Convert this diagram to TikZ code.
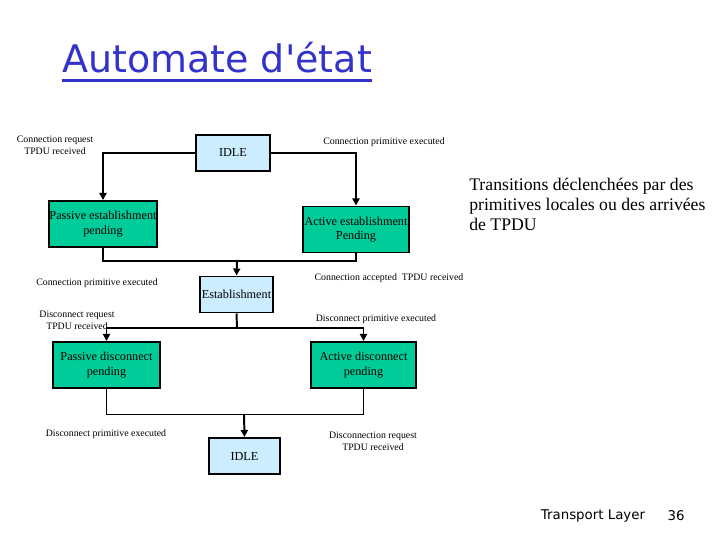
\documentclass[tikz,border=0pt]{standalone}
\usepackage{fontspec}
\setmainfont{Liberation Serif}
\newfontfamily\titlefont{DejaVu Sans}
\usetikzlibrary{arrows.meta}
\definecolor{idleblue}{RGB}{204,236,255}
\definecolor{stategreen}{RGB}{0,204,153}
\definecolor{titleblue}{RGB}{51,51,204}

\begin{document}
\begin{tikzpicture}[x=0.025cm, y=-0.025cm,
  idlebox/.style={draw, line width=1.4pt, fill=idleblue, minimum width=1.83cm,
    minimum height=0.9cm, inner sep=1pt, font=\fontsize{8.7}{10}\selectfont},
  statebox/.style={draw, line width=1.4pt, fill=stategreen, minimum width=2.68cm,
    minimum height=1.15cm, inner sep=0pt, align=center, font=\fontsize{8.7}{10.5}\selectfont},
  lbl/.style={font=\fontsize{7}{8.3}\selectfont, align=center, inner sep=0pt},
  boldpath/.style={line width=1.4pt},
  thinpath/.style={line width=0.7pt},
  arrowed/.style={-{Triangle[length=5pt,width=5pt]}}]
  \useasboundingbox (0,0) rectangle (720,540);

  % titre
  \node[font=\titlefont\fontsize{27}{30}\selectfont, text=titleblue, inner sep=0pt,
    anchor=base west] (title) at (62,72) {Automate d'état};
  \draw[titleblue, line width=2pt] ([yshift=-6pt]title.base west) -- ([yshift=-6pt]title.base east);

  % etats
  \node[idlebox] (idle) at (233,153) {IDLE};
  \node[statebox] (pest) at (103,224) {Passive establishment\\pending};
  \node[statebox, minimum width=2.65cm] (aest) at (356,229.5) {Active establishment\\Pending};
  \node[idlebox] (estab) at (236.5,294.5) {Establishment};
  \node[statebox] (pdis) at (106.5,365) {Passive disconnect\\pending};
  \node[statebox, minimum width=2.63cm] (adis) at (363.5,365) {Active disconnect\\pending};
  \node[idlebox, minimum width=1.78cm] (idleend) at (244.5,456) {IDLE};

  % points de jonction
  \coordinate (joinup) at (237,261);
  \coordinate (split) at (237,328);
  \coordinate (joindown) at (244,414);

  % transitions
  \draw[boldpath, arrowed] (idle.west) -| (pest.north);
  \draw[boldpath, arrowed] (idle.east) -| (aest.north);
  \draw[boldpath] (pest.south) |- (joinup);
  \draw[boldpath] (aest.south) |- (joinup);
  \draw[boldpath, arrowed] (joinup) -- (estab.north);
  \draw[boldpath] (estab.south) -- (split);
  \draw[boldpath, arrowed] (split) -| (pdis.north);
  \draw[boldpath, arrowed] (split) -| (adis.north);
  \draw[thinpath] (pdis.south) |- (joindown);
  \draw[thinpath] (adis.south) |- (joindown);
  \draw[boldpath, arrowed] (joindown) -- (idleend.north);

  % etiquettes
  \node[lbl] (l1) at (55,145) {Connection request\\TPDU received};
  \node[lbl] (l2) at (384,142) {Connection primitive executed};
  \node[lbl] (l3) at (97,283) {Connection primitive executed};
  \node[lbl] (l4) at (389,278) {Connection accepted\ \ TPDU received};
  \node[lbl] (l5) at (77,320) {Disconnect request\\TPDU received};
  \node[lbl] (l6) at (376,319) {Disconnect primitive executed};
  \node[lbl] (l7) at (106,434) {Disconnect primitive executed};
  \node[lbl] (l8) at (373,441) {Disconnection request\\TPDU received};

  \node[anchor=west, align=left, inner sep=0pt, font=\fontsize{12.6}{14.2}\selectfont] (note)
    at (469,204) {Transitions déclenchées par des\\primitives locales ou des arrivées\\de TPDU};

  % pied de page
  \node[font=\titlefont\fontsize{9.5}{11}\selectfont, inner sep=0pt] (foot) at (593,516) {Transport Layer};
  \node[font=\titlefont\fontsize{9.5}{11}\selectfont, inner sep=0pt] (page) at (676,516) {36};
\end{tikzpicture}
\end{document}
